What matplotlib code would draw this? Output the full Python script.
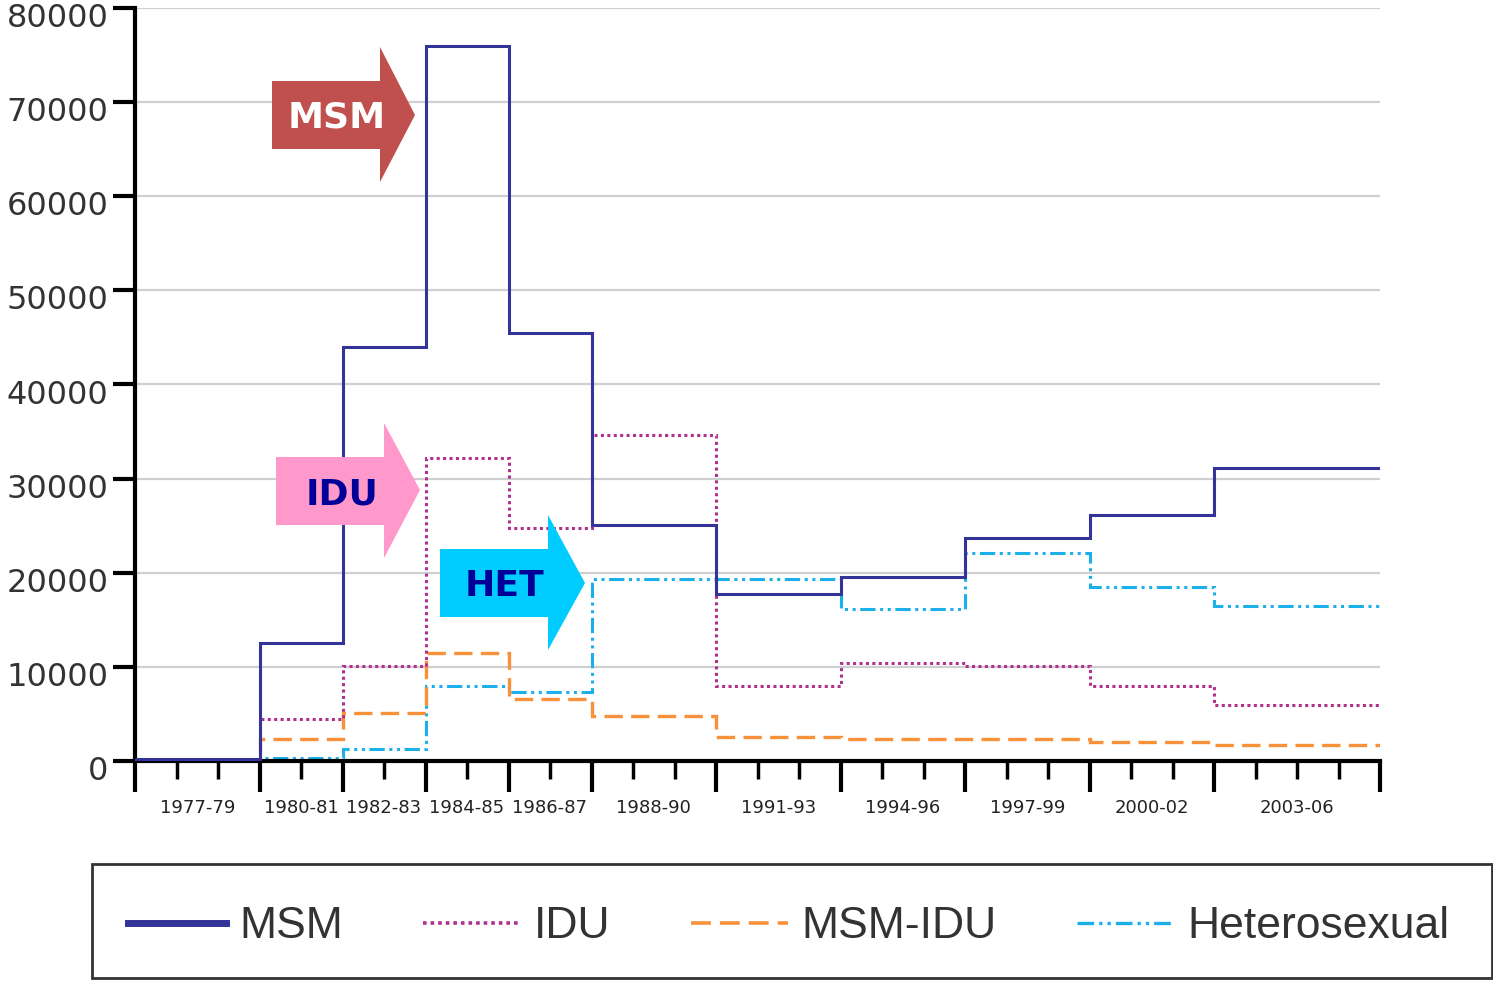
import matplotlib
matplotlib.use("Agg")
import matplotlib.pyplot as plt
from matplotlib.patches import Polygon, Rectangle
from matplotlib.lines import Line2D
from matplotlib.transforms import ScaledTranslation

# ---- data ----
period_labels = ["1977-79", "1980-81", "1982-83", "1984-85", "1986-87", "1988-90",
                 "1991-93", "1994-96", "1997-99", "2000-02", "2003-06"]
edges = [1977, 1980, 1982, 1984, 1986, 1988, 1991, 1994, 1997, 2000, 2003, 2007]
msm = [200, 12500, 44000, 76000, 45500, 25100, 17700, 19600, 23700, 26100, 31100]
idu = [100, 4500, 10100, 32200, 24800, 34600, 8000, 10400, 10100, 8000, 5900]
msm_idu = [50, 2300, 5100, 11500, 6600, 4800, 2600, 2300, 2300, 2000, 1700]
het = [0, 300, 1300, 8000, 7300, 19300, 19300, 16200, 22100, 18500, 16500]
yticks = [0, 10000, 20000, 30000, 40000, 50000, 60000, 70000, 80000]

W, H = 1493, 981
fig = plt.figure(figsize=(W / 100, H / 100), dpi=100)
ax = fig.add_axes([135 / W, 1 - 761 / H, (1380 - 135) / W, (761 - 8) / H])

c_msm = "#33339A"
c_idu = "#B0308F"
c_mi = "#F7913A"
c_het = "#1BB0EA"

ax.set_xlim(1977, 2007)
ax.set_ylim(0, 80000)

for yv in yticks[1:]:
    ax.axhline(yv, color="#CFCFCF", lw=1.6, zorder=0)

ax.stairs(het, edges, baseline=None, color=c_het, lw=2.2,
          linestyle=(0, (5, 1.5, 1, 1.5, 1, 1.5)), zorder=2)
ax.stairs(msm_idu, edges, baseline=None, color=c_mi, lw=2.4,
          linestyle=(0, (5.5, 2.5)), zorder=3)
ax.stairs(idu, edges, baseline=None, color=c_idu, lw=2.2,
          linestyle=(0, (1, 1.1)), zorder=4)
ax.stairs(msm, edges, baseline=None, color=c_msm, lw=2.2, zorder=5)

for s in ["top", "right"]:
    ax.spines[s].set_visible(False)
for s in ["left", "bottom"]:
    ax.spines[s].set_linewidth(3)
    ax.spines[s].set_color("black")

ax.set_yticks(yticks)
ax.set_yticklabels([str(v) for v in yticks], fontsize=23, color="#333333")
ax.tick_params(axis="y", length=16, width=3, pad=3, direction="out")
shift = ScaledTranslation(0, -0.07, fig.dpi_scale_trans)
for lab in ax.get_yticklabels():
    lab.set_transform(lab.get_transform() + shift)

ax.set_xticks(edges)
ax.set_xticklabels([])
ax.set_xticks(list(range(1977, 2008)), minor=True)
ax.tick_params(axis="x", which="major", length=22, width=3, direction="out")
ax.tick_params(axis="x", which="minor", length=13, width=2.5, direction="out")

for i, lab in enumerate(period_labels):
    cx = (edges[i] + edges[i + 1]) / 2
    ax.annotate(lab, xy=(cx, 0), xycoords=("data", "axes fraction"),
                xytext=(0, -34), textcoords="offset points",
                ha="center", va="center", fontsize=13, color="#222222",
                annotation_clip=False)

# ---- arrows ----
def arrow(x0, x1, yb0, yb1, yh0, yh1, tip, color, text, tcolor, tx, ty):
    pts = [(x0, yb0), (x1, yb0), (x1, yh0), (tip[0], tip[1]), (x1, yh1),
           (x1, yb1), (x0, yb1)]
    pts = [(px / W, 1 - py / H) for px, py in pts]
    fig.patches.append(Polygon(pts, closed=True, transform=fig.transFigure,
                               facecolor=color, edgecolor="none", zorder=10))
    fig.text(tx / W, 1 - ty / H, text, color=tcolor, fontsize=26,
             fontweight="bold", ha="center", va="center", zorder=11)

arrow(272, 380, 81, 149, 47, 182, (415, 115), "#C0504D", "MSM", "white", 337, 118)
arrow(276, 384, 457, 525, 423, 558, (420, 490), "#FF99CC", "IDU", "#000099", 342, 494)
arrow(440, 548, 549, 617, 515, 650, (585, 583), "#00CCFF", "HET", "#000099", 505, 586)

# ---- legend ----
fig.patches.append(Rectangle((92 / W, 1 - 978 / H), (1492 - 92) / W, (978 - 864) / H,
                             transform=fig.transFigure, facecolor="white",
                             edgecolor="#333333", lw=2, zorder=1))
handles = [Line2D([], [], color=c_msm, lw=5),
           Line2D([], [], color=c_idu, lw=2.6, linestyle=(0, (1, 1.1))),
           Line2D([], [], color=c_mi, lw=2.6, linestyle=(0, (5.5, 2.5))),
           Line2D([], [], color=c_het, lw=2.4, linestyle=(0, (5, 1.5, 1, 1.5, 1, 1.5)))]
labels = ["MSM", "IDU", "MSM-IDU", "Heterosexual"]
leg = fig.legend(handles, labels, loc="center", bbox_to_anchor=(789 / W, 1 - 927 / H),
                 ncol=4, frameon=False, handlelength=2.2, handletextpad=0.3,
                 columnspacing=1.8, prop={"family": "Liberation Sans", "size": 32})
for t in leg.get_texts():
    t.set_color("#333333")

fig.savefig("out.png", dpi=100)
